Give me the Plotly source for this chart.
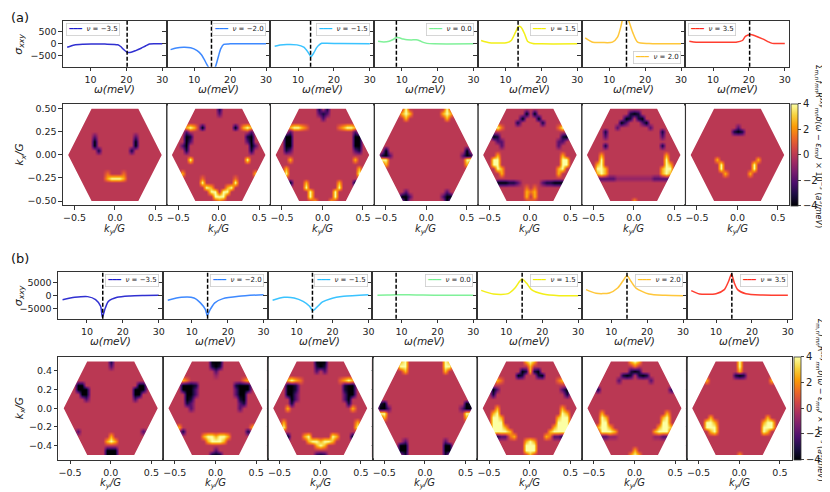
import numpy as np
import plotly.graph_objects as go

# filling factors and their line colours
NU = [-3.5, -2.0, -1.5, 0.0, 1.5, 2.0, 3.5]
NU_LABELS = ['−3.5', '−2.0', '−1.5', '0.0', '1.5', '2.0', '3.5']
LINE_COLORS = ['#1a1acd', '#2a7dff', '#25bdff', '#73f08f', '#f2ee00', '#ffc125', '#ff2a1a']

# panel (a): sigma_xxy vs omega (meV)
OMEGA_A = [
    [3.5, 5.5, 8, 10.2, 14, 17.6, 18.4, 19.2, 20.2, 21.3, 22.6, 24.1, 25.4, 26.4, 28, 30],
    [3.4, 5, 7, 9, 10.8, 12, 12.7, 13.5, 14.1, 14.8, 15.5, 15.9, 16.4, 16.8, 17.4, 18.2, 20, 30],
    [3.5, 5, 6.9, 9.7, 11.6, 12.8, 13.6, 14.5, 15.1, 15.7, 16.6, 18, 21.7, 30],
    [3.4, 5, 6.5, 7.6, 8.5, 9.3, 10.4, 11.5, 12.7, 14, 15, 16, 17, 19, 30],
    [3.2, 5.5, 8, 10.2, 11.6, 12.8, 13.6, 14.3, 15.3, 16.2, 17.6, 20, 30],
    [3.3, 5.4, 8, 10.9, 12.3, 13.2, 13.8, 14.5, 15.3, 16.5, 17.9, 21.1, 30],
    [3.4, 5.3, 10, 16.4, 18.2, 19.1, 20.5, 21.5, 23.8, 26.1, 27, 30],
]
SIGMA_A = [
    [-140, -45, -15, -5, -10, -40, -110, -230, -350, -350, -280, -180, -80, -10, 0, 0],
    [-240, -170, -140, -160, -280, -450, -625, -850, -1000, -1150, -1050, -950, -700, -480, -200, -20, 0, 0],
    [-100, -50, -28, -42, -139, -347, -530, -347, -180, -70, 25, 20, 14, 0],
    [110, 80, 110, 180, 270, 250, 200, 170, 165, 170, 130, 60, 20, 0, 0],
    [139, 42, 35, 42, 139, 486, 722, 695, 417, 97, 14, 0, 0],
    [250, 70, 55, 70, 278, 695, 1050, 1180, 1000, 486, 70, 14, 0],
    [111, 70, 70, 70, 139, 320, 390, 347, 208, 42, 14, 14],
]
RES_A = [20.2, 14.8, 13.5, 8.5, 13.5, 14.8, 20.2]

# panel (b): sigma_xxy vs omega (meV)
OMEGA_B = [
    [3.2, 6.6, 10.2, 12.4, 13.8, 14.3, 15.1, 16, 18.4, 22, 26, 30],
    [3.3, 7.1, 10.6, 12.4, 13.8, 14.3, 15.1, 16.4, 18.7, 23.1, 30],
    [3.3, 6.5, 9.3, 11.8, 13.6, 14.5, 15.9, 17.2, 19.5, 23.1, 30],
    [3.3, 6, 8.5, 12, 16, 22, 30],
    [3.0, 6.4, 10.5, 12.4, 13.7, 14.4, 15.6, 17, 20.2, 24.7, 30],
    [3.0, 5.8, 9.5, 11.8, 13.2, 14.4, 15.5, 16.9, 20.5, 25, 30],
    [3.1, 5.4, 10, 12.3, 13.5, 14.3, 15.1, 16, 18.3, 23, 30],
]
SIGMA_B = [
    [-1660, -770, -500, -1660, -4200, -8400, -4900, -2300, -770, -250, -80, 0],
    [-1900, -770, -1000, -2900, -5500, -7800, -5500, -2900, -1280, -380, 250],
    [-1900, -770, -1000, -2300, -4200, -5900, -4200, -2560, -1280, -380, 250],
    [0, 100, 250, 200, 100, 60, 50],
    [1900, 500, 640, 2800, 5400, 6300, 4700, 2200, 500, -130, -130],
    [2200, 770, 900, 2800, 5400, 7550, 5400, 2800, 500, 0, -130],
    [1800, 500, 640, 2200, 5400, 8200, 4700, 2200, 640, 130, 0],
]
RES_B = [14.4, 14.4, 14.4, 8.5, 14.4, 14.4, 14.4]

KY = [-0.6, -0.55, -0.5, -0.45, -0.4, -0.35, -0.3, -0.25, -0.2, -0.15, -0.1, -0.05, 0.0,
      0.05, 0.1, 0.15, 0.2, 0.25, 0.3, 0.35, 0.4, 0.45, 0.5, 0.55, 0.6]
KX = [0.5, 0.45, 0.4, 0.35, 0.3, 0.25, 0.2, 0.15, 0.1, 0.05, 0.0, -0.05, -0.1,
      -0.15, -0.2, -0.25, -0.3, -0.35, -0.4, -0.45, -0.5]
LEVELS = {'.': 0.0, 'm': -0.8, 'p': -2.0, 'd': -3.2, 'b': -4.0, 'r': 1.4, 'o': 2.6, 'y': 4.0}

MAPS_A = [
    {6: ".......p.........p.......", 7: ".......b.........b.......", 8: ".......b.........b.......",
     9: "........d.......d........", 14: "..........r...r..........", 15: "..........oyyyo.........."},
    {0: "............d............", 1: "............p............", 4: "....oyo.b.......b.oyo....",
     5: "....p...............p....", 6: "....bd.............db....", 7: "....bp.............pb....",
     8: "...pb...............bp...", 9: "....d...............d....", 11: ".....y.............y.....",
     14: "...o.................o...", 15: "........r.......r........", 16: "........y.......y........",
     17: ".........yo...oy.........", 18: "..........yy.yy..........", 19: "...........yyy...........",
     20: "............r............"},
    {0: "...........d.d...........", 1: "...........pdp...........", 2: "............p............",
     4: "....oyyor.......royyo....", 5: "....p...............p....", 6: "...bb...............bb...",
     7: "...bb...............bb...", 8: "...bb...............bb...", 9: "...dp...............pd...",
     11: "....o...............o....", 13: "...o.................o...", 14: "...y.................y...",
     16: "....b...o.......o...b....", 17: "........y.......y........", 18: ".........y.....y.........",
     19: ".........y.....y.........", 20: "..........o...o.........."},
    {0: ".......y.........y.......", 1: "......oyo.......oyo......", 2: ".......o.........o.......",
     9: "..b...................b..", 10: ".dbp.................pbd.", 11: ".yy...................yy.",
     12: "..o...................o..", 18: ".......p.........p.......", 19: "......bbp.......pbb......",
     20: ".......b.........b......."},
    {1: "...........b.b...........", 2: "..........b...b..........", 3: ".........d.....d.........",
     4: "....yr.............ry....", 6: "...bd...............db...", 7: "....pp.............pp....",
     8: ".....p.............p.....", 10: "....o...............o....", 11: "...yy...............yy...",
     12: "...yy...............yy...", 13: "....yo.............oy....", 14: ".....o.............o.....",
     16: "....bbbddp.....pddbbb....", 17: "...........r.r...........", 18: "...........oro...........",
     19: "...........o.o...........", 20: "............r............"},
    {1: "...........dbd...........", 2: "..........bd.db..........", 3: ".........bp...pb.........",
     4: "........p.......p........", 5: ".....d.............d.....", 6: ".....p.............p.....",
     8: ".....d.............d.....", 10: "....o...............o....", 11: "....y...............y....",
     12: "...oy...............yo...", 13: "...yyo.............oyy...", 14: "...oyo.............oyo...",
     15: "...pppppmmmmmmmmmppppp...", 20: "............o............"},
    {4: "............p............", 5: "...........dbd...........", 11: ".......o.........o.......",
     12: "........y.......y........", 13: "........y.......y........", 14: ".........o.....o........."},
]

MAPS_B = [
    {0: "............d............", 1: "............p............", 5: "....bb.............bb....",
     6: "....bbb...........bbb....", 7: ".....bb...........bb.....", 8: "......p...........p......",
     15: "....p...............p....", 16: "............o............", 17: "...........oyo...........",
     19: "...........bbb...........", 20: "...........bbb..........."},
    {0: "...........bbb...........", 1: "...........dbd...........", 2: "............p............",
     3: "............m............", 4: "....or.............ro....", 5: "....bbbd.........dbbb....",
     6: "....bbbp.........pbbb....", 7: ".....bbp.........pbb.....", 8: ".....bd...........db.....",
     9: ".....dp...........pd.....", 10: "......p...........p......", 14: "...o.................o...",
     15: "....d...............d....", 16: ".........oyyoyyo.........", 17: "..........oyyyo..........",
     19: "............p............", 20: "...........bbb..........."},
    {0: "...........bbb...........", 1: "...........dbd...........", 2: "...........p.p...........",
     4: "....oyor.........royo....", 5: "....bbd...........dbb....", 6: "....bbd...........dbb....",
     7: "....bbp...........pbb....", 8: ".....bp...........pb.....", 9: ".....d.............d.....",
     10: "....o...............o....", 13: "...o.................o...", 14: "...y.................y...",
     16: "....b...oy.....yo...b....", 17: ".........oyyoyyo.........", 18: "...........oyo...........",
     20: "...........dbd..........."},
    {0: "......oy.........yo......", 1: "......yy.........yy......", 2: ".......o.........o.......",
     9: ".db...................bd.", 10: ".bbp.................pbb.", 11: ".yy...................yy.",
     12: "..o...................o..", 17: ".......p.........p.......", 18: "......bb.........bb......",
     19: "......bb.........bb......", 20: ".......d.........d......."},
    {0: "...........oyo...........", 1: "............o............", 2: "..........bdodb..........",
     3: ".........bd...db.........", 4: "....or.............ro....", 6: "...bp...............pb...",
     7: "...d.................d...", 10: "....o...............o....", 11: "...oy...............yo...",
     12: "...yyo.............oyy...", 13: "...yyy.............yyy...", 14: "...yyyo...........oyyy...",
     15: "...yyyyo.........oyyyy...", 16: "....dppro.......orppd....", 17: "...........oyo...........",
     18: "...........yyy...........", 19: "...........yyy...........", 20: "............o............"},
    {0: "...........oyo...........", 1: "............r............", 2: "...........dbd...........",
     3: ".........dbd.dbd.........", 4: "........p.......p........", 6: "...d.................d...",
     11: "....o...............o....", 12: "....yo.............oy....", 13: "....yy.............yy....",
     14: "...oyyo...........oyyo...", 15: "....yyyo.........oyyy....", 16: "....ppmm.........mmpp....",
     19: "............o............", 20: "...........oyo..........."},
    {0: "............y............", 1: "............y............", 2: "............o............",
     3: "...........dbd...........", 4: "....o...............o....", 12: ".....o.............o.....",
     13: "....yyo...........oyy....", 14: "....yyy...........yyy....", 15: ".....oy...........yo.....",
     20: "............o............"},
]

W, H = 830, 492
FONT = 'DejaVu Sans'


def fx(px):
    return px / W


def fy(py):
    return 1 - py / H


def grid_values(rows):
    z = []
    for i in range(len(KX)):
        row = rows.get(i, '').ljust(len(KY), '.')[:len(KY)]
        z.append([LEVELS[c] for c in row])
    return z


# white cover outside the hexagonal zone (corner at G/sqrt3, flat edge at G/2);
# the outer box stops just inside the frame so the axis lines stay visible
R_HEX = 1 / np.sqrt(3)
E_HEX = R_HEX / 2
H_HEX = 0.5
BOX_KY, BOX_KX = 0.632, 0.535
MASK_PATH = (f'M{-BOX_KY},{-BOX_KX} L{BOX_KY},{-BOX_KX} L{BOX_KY},{BOX_KX} L{-BOX_KY},{BOX_KX} Z '
             f'M{-R_HEX:.4f},0 L{-E_HEX:.4f},{-H_HEX} L{E_HEX:.4f},{-H_HEX} '
             f'L{R_HEX:.4f},0 L{E_HEX:.4f},{H_HEX} L{-E_HEX:.4f},{H_HEX} Z')

AXIS_STYLE = dict(showline=True, mirror=True, linecolor='#333', linewidth=0.8,
                  ticks='outside', ticklen=3.5, tickwidth=0.8, tickcolor='#333',
                  showgrid=False, zeroline=False, tickfont=dict(size=9.5, color='#222'))

# pixel boxes: top, bottom, left, width of each subplot
BOXES = [
    (12, 58, 55, 104),      # (a) spectra
    (95, 197.3, 55, 104),   # (a) maps
    (264, 311, 50, 105.1),  # (b) spectra
    (349, 452.7, 50.5, 105),  # (b) maps
]

fig = go.Figure()
layout = {}
annotations = []
shapes = []


def axis_names(n):
    s = '' if n == 1 else str(n)
    return 'xaxis' + s, 'yaxis' + s, 'x' + s, 'y' + s


def add_axes(n, box, c, xrange, yrange, xt, xtt, yt, ytt):
    top, bottom, left, width = box
    xa, ya, xr, yr = axis_names(n)
    layout[xa] = dict(domain=[fx(left + c * width), fx(left + (c + 1) * width)], range=xrange,
                      anchor=yr, tickvals=xt, ticktext=xtt, **AXIS_STYLE)
    layout[ya] = dict(domain=[fy(bottom), fy(top)], range=yrange, anchor=xr,
                      tickvals=yt, ticktext=ytt, showticklabels=(c == 0), **AXIS_STYLE)
    return xr, yr


panels = [
    dict(omega=OMEGA_A, sigma=SIGMA_A, res=RES_A, maps=MAPS_A, line_box=BOXES[0], map_box=BOXES[1],
         wrange=[2.3, 31.2], srange=[-950, 950], sticks=[-500, 0, 500], stext=['−500', '0', '500'],
         krange=[-0.548, 0.555], kticks=[-0.5, -0.25, 0, 0.25, 0.5],
         ktext=['−0.50', '−0.25', '0.00', '0.25', '0.50'], kyrange=[-0.643, 0.638],
         legend_pos=['ul', 'ur', 'ur', 'ur', 'ur', 'lr', 'ul'], coloraxis='coloraxis',
         cbar_left=785, label='(a)', label_y=9, cbar_label_x=813),
    dict(omega=OMEGA_B, sigma=SIGMA_B, res=RES_B, maps=MAPS_B, line_box=BOXES[2], map_box=BOXES[3],
         wrange=[1.9, 31.1], srange=[-9000, 9000], sticks=[-5000, 0, 5000], stext=['−5000', '0', '5000'],
         krange=[-0.553, 0.553], kticks=[-0.4, -0.2, 0, 0.2, 0.4],
         ktext=['−0.4', '−0.2', '0.0', '0.2', '0.4'], kyrange=[-0.643, 0.644],
         legend_pos=['ur'] * 7, coloraxis='coloraxis2',
         cbar_left=787.5, label='(b)', label_y=251, cbar_label_x=815),
]

n = 0
for p in panels:
    ltop, lbot, lleft, lw = p['line_box']
    mtop, mbot, mleft, mw = p['map_box']
    for c in range(7):
        # spectrum
        n += 1
        xr, yr = add_axes(n, p['line_box'], c, p['wrange'], p['srange'],
                          [10, 20, 30], ['10', '20', '30'], p['sticks'], p['stext'])
        fig.add_trace(go.Scatter(x=p['omega'][c], y=p['sigma'][c], mode='lines',
                                 line=dict(color=LINE_COLORS[c], width=1.5, shape='spline', smoothing=0.7),
                                 opacity=0.9, xaxis=xr, yaxis=yr, showlegend=False, hoverinfo='skip'))
        shapes.append(dict(type='line', xref=xr, yref=yr + ' domain', x0=p['res'][c], x1=p['res'][c],
                           y0=0, y1=1, line=dict(color='black', width=1.5, dash='4px,2px')))
        x_left = lleft + c * lw
        annotations.append(dict(text='<i>ω(meV)</i>', x=fx(x_left + lw / 2), y=fy(lbot + 22),
                                xref='paper', yref='paper', showarrow=False, font=dict(size=10.5, color='#222'),
                                xanchor='center', yanchor='middle'))
        pos = p['legend_pos'][c]
        lx = x_left + 3 if pos == 'ul' else x_left + lw - 4
        ly = ltop + 2 if pos in ('ul', 'ur') else lbot - 3
        annotations.append(dict(
            text=f'<span style="color:{LINE_COLORS[c]}">━━━</span>  <i>ν</i> = {NU_LABELS[c]}',
            x=fx(lx), y=fy(ly), xref='paper', yref='paper', showarrow=False,
            xanchor='left' if pos == 'ul' else 'right', yanchor='top' if pos != 'lr' else 'bottom',
            font=dict(size=7, color='#222'), bgcolor='rgba(255,255,255,0.85)',
            bordercolor='#cccccc', borderwidth=0.8, borderpad=1.5))
    for c in range(7):
        # k-space map
        n += 1
        xr, yr = add_axes(n, p['map_box'], c, p['kyrange'], p['krange'],
                          [-0.5, 0, 0.5], ['−0.5', '0.0', '0.5'], p['kticks'], p['ktext'])
        fig.add_trace(go.Heatmap(x=KY, y=KX, z=grid_values(p['maps'][c]), coloraxis=p['coloraxis'],
                                 xaxis=xr, yaxis=yr, zsmooth='best', hoverinfo='skip'))
        shapes.append(dict(type='path', path=MASK_PATH, xref=xr, yref=yr, fillrule='evenodd',
                           fillcolor='white', line=dict(width=0), layer='above'))
        annotations.append(dict(text='<i>k<sub>y</sub>/G</i>', x=fx(mleft + c * mw + mw / 2), y=fy(mbot + 24),
                                xref='paper', yref='paper', showarrow=False, font=dict(size=10, color='#222'),
                                xanchor='center', yanchor='middle'))
    # y titles, panel label, colour bar and its label
    annotations.append(dict(text='<i>σ<sub>xxy</sub></i>', x=fx(11), y=fy((ltop + lbot) / 2), xref='paper',
                            yref='paper', showarrow=False, textangle=-90, font=dict(size=11, color='#222'),
                            xanchor='center', yanchor='middle'))
    annotations.append(dict(text='<i>k<sub>x</sub>/G</i>', x=fx(12), y=fy((mtop + mbot) / 2), xref='paper',
                            yref='paper', showarrow=False, textangle=-90, font=dict(size=10.5, color='#222'),
                            xanchor='center', yanchor='middle'))
    annotations.append(dict(text=p['label'], x=fx(1), y=fy(p['label_y']), xref='paper', yref='paper',
                            showarrow=False, font=dict(size=13, color='#111'), xanchor='left', yanchor='middle'))
    annotations.append(dict(
        text='Σ<sub>m,n</sub><i>f<sub>mn</sub>R<sup>xxy</sup><sub>mn</sub>δ(ω − ε<sub>mn</sub>)</i>'
             ' × 10<sup>−3</sup> (<i>a</i><sup>3</sup>/<i>meV</i>)',
        x=fx(p['cbar_label_x']), y=fy((mtop + mbot) / 2 - 8), xref='paper', yref='paper', showarrow=False,
        textangle=90, font=dict(size=8, color='#111'), xanchor='center', yanchor='middle'))
    layout[p['coloraxis']] = dict(
        colorscale='Inferno', cmin=-4, cmax=4,
        colorbar=dict(x=fx(p['cbar_left']), xanchor='left', y=fy((mtop + mbot) / 2), yanchor='middle',
                      len=(mbot - mtop) / H, thickness=7, xpad=0, ypad=0, outlinewidth=0.8,
                      outlinecolor='#333', tickvals=[-4, -2, 0, 2, 4], ticktext=['−4', '−2', '0', '2', '4'],
                      ticks='outside', ticklen=3, tickwidth=0.8, tickfont=dict(size=10, color='#222')))

fig.update_layout(width=W, height=H, margin=dict(l=0, r=0, t=0, b=0), paper_bgcolor='white',
                  plot_bgcolor='white', font=dict(family=FONT, color='#222'), showlegend=False,
                  annotations=annotations, shapes=shapes, **layout)

fig.write_html("out.html")
